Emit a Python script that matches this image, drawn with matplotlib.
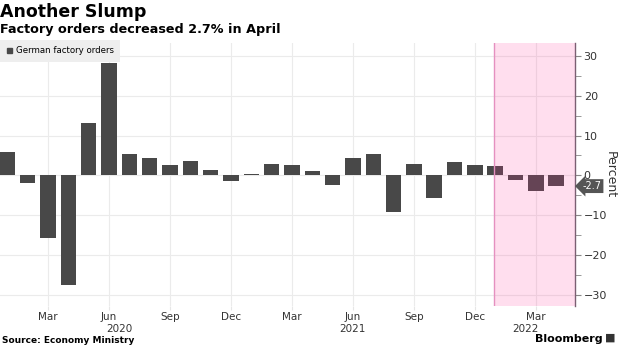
import matplotlib
matplotlib.use("Agg")
import matplotlib.pyplot as plt
from matplotlib.ticker import MultipleLocator

plt.rcParams["font.family"] = ["DejaVu Sans"]

# monthly % change in German factory orders, Jan 2020 .. Apr 2022
months = ["Jan", "Feb", "Mar", "Apr", "May", "Jun", "Jul", "Aug", "Sep", "Oct", "Nov", "Dec"] * 2 + ["Jan", "Feb", "Mar", "Apr"]
years = [2020] * 12 + [2021] * 12 + [2022] * 4
values = [5.9, -1.9, -15.8, -27.6, 13.1, 28.1, 5.3, 4.3, 2.7, 3.5, 1.3, -1.4,
          0.3, 2.8, 2.7, 1.2, -2.4, 4.3, 5.3, -9.3, 2.9, -5.8, 3.3, 2.5,
          2.3, -1.2, -4.0, -2.7]
tick_months = ["Mar", "Jun", "Sep", "Dec"]
year_label_month = {2020: "Jun", 2021: "Jun", 2022: "Mar"}
shade_from = (2022, "Jan")
last_label = "-2.7"

x = list(range(len(values)))
BAR = "#484848"

fig = plt.figure(figsize=(6.2, 3.48), dpi=100)
ax = fig.add_axes([0.0, 0.1207, 575.3 / 620, 0.7566])

ax.bar(x, values, width=0.76, color=BAR, zorder=2)

xs = [i for i, (y, m) in enumerate(zip(years, months)) if (y, m) == shade_from][0]
ax.axvspan(xs - 0.05, len(values) + 1, color="#ff3399", alpha=0.16, lw=0, zorder=3)
ax.axvline(xs - 0.05, color="#e590c0", lw=1.0, zorder=3)

ax.set_xlim(-0.36, len(values) - 1 + 0.94)
ax.set_ylim(-32.8, 33.3)

ticks = [i for i, m in enumerate(months) if m in tick_months]
ax.set_xticks(ticks)
ax.set_xticklabels([months[i] for i in ticks], fontsize=7.5, color="#333333")
ax.tick_params(axis="x", length=3, color="#e6e6e6", pad=1)
for yr, m in year_label_month.items():
    i = [k for k, (y2, m2) in enumerate(zip(years, months)) if y2 == yr and m2 == m][0]
    off = {2020: 0.5, 2021: 0.0, 2022: -0.5}[yr]
    ax.text(i + off, -0.07, str(yr), transform=ax.get_xaxis_transform(),
            ha="center", va="top", fontsize=7.5, color="#333333")

ax.yaxis.tick_right()
ax.yaxis.set_label_position("right")
ax.yaxis.set_major_locator(MultipleLocator(10))
ax.yaxis.set_minor_locator(MultipleLocator(5))
ax.tick_params(axis="y", which="both", direction="out", length=4, color="#888888",
               labelsize=8, labelcolor="#333333", pad=2)
ax.set_ylabel("Percent", rotation=270, fontsize=9, color="#333333", labelpad=7)

ax.grid(True, color="#ebebeb", lw=0.8, zorder=0)
ax.set_axisbelow(True)
for s in ["top", "left", "bottom"]:
    ax.spines[s].set_visible(False)
ax.spines["right"].set_color("#7a6072")
ax.spines["right"].set_linewidth(1.0)

ax.annotate(last_label, xy=(1.0, values[-1]), xycoords=("axes fraction", "data"),
            xytext=(12, 0), textcoords="offset points", ha="center", va="center",
            fontsize=7, color="white",
            bbox=dict(boxstyle="larrow,pad=0.2", fc="#555555", ec="none"),
            annotation_clip=False)

leg = ax.legend([plt.Rectangle((0, 0), 1, 1, color=BAR)], ["German factory orders"],
                loc="upper left", bbox_to_anchor=(0.0, 1.012), fontsize=6.2,
                frameon=True, fancybox=False, borderaxespad=0, handlelength=0.6,
                handleheight=0.6, handletextpad=0.4, borderpad=0.8)
leg.get_frame().set_facecolor("#eeeeee")
leg.get_frame().set_edgecolor("none")
leg.get_frame().set_alpha(1)
leg.set_zorder(5)

fig.text(0.0, 0.992, "Another Slump", fontsize=12.5, fontweight="bold", ha="left", va="top")
fig.text(0.0, 0.935, "Factory orders decreased 2.7% in April", fontsize=9.2,
         fontweight="bold", ha="left", va="top")
fig.text(0.003, 0.008, "Source: Economy Ministry", fontsize=6.5, fontweight="bold",
         ha="left", va="bottom")
fig.text(0.972, 0.012, "Bloomberg", fontsize=8, fontweight="bold", ha="right", va="bottom")
fig.text(0.985, 0.014, "\u25a0", fontsize=8, ha="center", va="bottom", color="#333333")

fig.savefig("out.png", dpi=100)
